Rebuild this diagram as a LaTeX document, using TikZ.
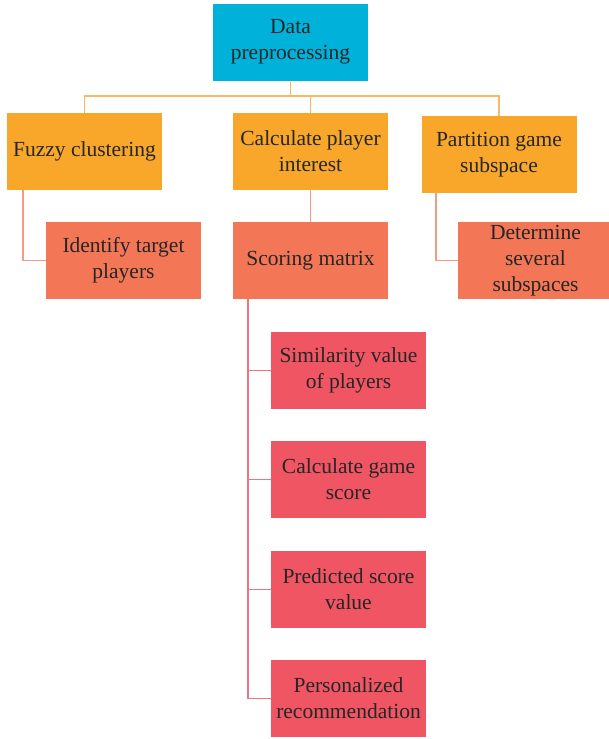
\documentclass[tikz,border=0pt]{standalone}
\usepackage{fontspec}
\setmainfont{Liberation Serif}
\definecolor{datablue}{RGB}{0,178,218}
\definecolor{taskorange}{RGB}{249,167,43}
\definecolor{tasksalmon}{RGB}{243,119,87}
\definecolor{taskrose}{RGB}{239,85,99}
\definecolor{lineorange}{RGB}{249,185,100}
\definecolor{linesalmon}{RGB}{244,155,135}
\definecolor{linerose}{RGB}{240,115,130}
\tikzset{
  box/.style={minimum width=155pt, minimum height=77pt, align=center, inner sep=0pt,
    font=\fontsize{21.5}{26}\selectfont, text=black!85},
  link/.style={line width=1.8pt}
}
\begin{document}
\begin{tikzpicture}[x=1pt,y=-1pt]
\useasboundingbox (0,0) rectangle (608,739);
% top
\node[box, fill=datablue] (data) at (290.5,42) {Data\\preprocessing};
% second row
\node[box, fill=taskorange] (fuzzy) at (84.5,151.5) {Fuzzy clustering};
\node[box, fill=taskorange] (interest) at (310.5,151.5) {Calculate player\\interest};
\node[box, fill=taskorange] (partition) at (499,154.5) {Partition game\\subspace};
% third row
\node[box, fill=tasksalmon] (identify) at (123.5,260.5) {Identify target\\players};
\node[box, fill=tasksalmon] (scoring) at (310.5,260.5) {Scoring matrix};
\node[box, fill=tasksalmon] (determine) at (535.5,260.5) {Determine\\several\\subspaces};
% steps under scoring matrix
\node[box, fill=taskrose] (similar) at (348.5,370.5) {Similarity value\\of players};
\node[box, fill=taskrose] (game) at (348.5,479.5) {Calculate game\\score};
\node[box, fill=taskrose] (predict) at (348.5,589.5) {Predicted score\\value};
\node[box, fill=taskrose] (recommend) at (348.5,698.5) {Personalized\\recommendation};
% connectors
\draw[link, lineorange] (data.south) -- ++(0,15) coordinate (hub);
\draw[link, lineorange] (fuzzy.north) |- (hub) -| (partition.north);
\draw[link, lineorange] (interest.north) -- (interest.north |- hub);
\draw[link, linesalmon] ([xshift=16pt]fuzzy.south west) |- (identify.west);
\draw[link, linesalmon] (interest.south) -- (scoring.north);
\draw[link, linesalmon] ([xshift=15pt]partition.south west) |- (determine.west);
\foreach \s in {similar, game, predict, recommend}
  \draw[link, linerose] ([xshift=15pt]scoring.south west) |- (\s.west);
\end{tikzpicture}
\end{document}
